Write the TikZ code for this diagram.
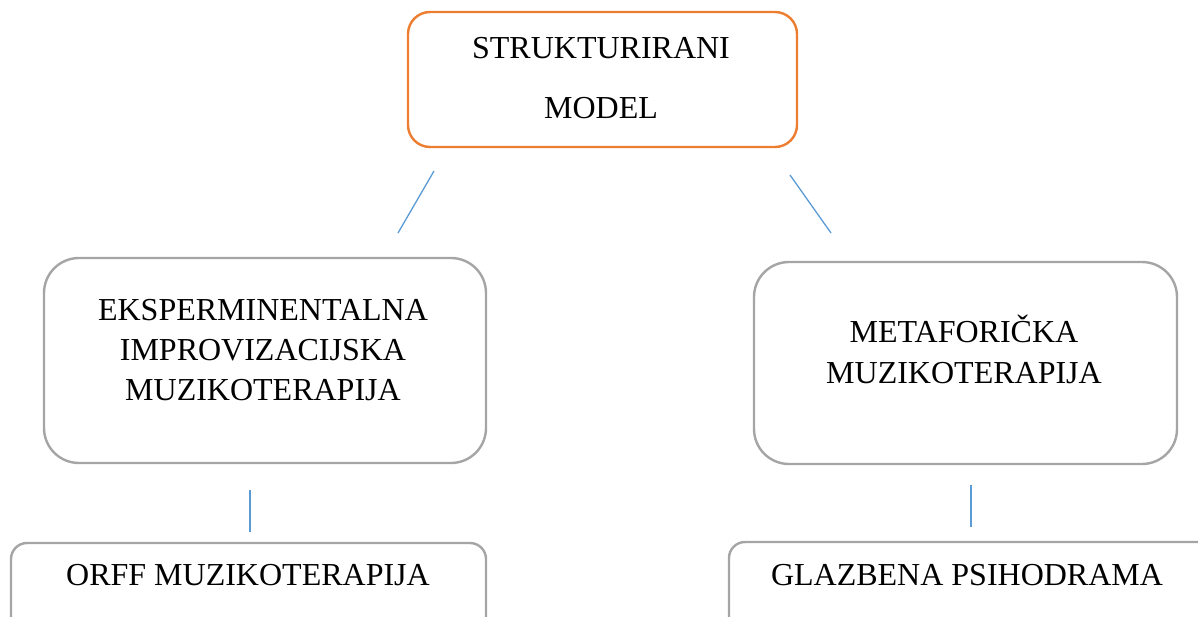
\documentclass[tikz,border=0pt]{standalone}
\usepackage{fontspec}
\setmainfont{Liberation Serif}
\definecolor{borange}{HTML}{ED7D31}
\definecolor{bgray}{HTML}{A5A5A5}
\definecolor{bblue}{HTML}{5B9BD5}
\begin{document}
\begin{tikzpicture}[x=1pt,y=-1pt,
  box/.style={draw=bgray, line width=2.4pt, rectangle, inner sep=0pt, fill=white},
  topbox/.style={draw=borange, line width=2.4pt, rectangle, inner sep=0pt, rounded corners=22pt},
  lbl/.style={anchor=base, inner sep=0pt, font=\fontsize{32}{38}\selectfont},
  conn/.style={draw=bblue, line width=1.3pt}]
\useasboundingbox (0,0) rectangle (1198,616);
\clip (0,0) rectangle (1198,616);
% boxes
\node[topbox, minimum width=389pt, minimum height=135pt] (top) at (602.5,79.5) {};
\node[box, rounded corners=35pt, minimum width=442pt, minimum height=205pt] (left) at (265,360.5) {};
\node[box, rounded corners=35pt, minimum width=423pt, minimum height=202pt] (right) at (965.5,363) {};
\node[box, rounded corners=16pt, minimum width=475pt, minimum height=100pt] (orff) at (248.5,593) {};
\node[box, rounded corners=16pt, minimum width=501pt, minimum height=100pt] (glaz) at (979.5,592) {};
% texts
\node[lbl] (t1) at (601,58) {STRUKTURIRANI};
\node[lbl] (t2) at (601,118) {MODEL};
\node[lbl] (l1) at (263,320) {EKSPERMINENTALNA};
\node[lbl] (l2) at (263,360) {IMPROVIZACIJSKA};
\node[lbl] (l3) at (263,400) {MUZIKOTERAPIJA};
\node[lbl] (r1) at (964,342) {METAFORIČKA};
\node[lbl] (r2) at (964,383) {MUZIKOTERAPIJA};
\node[lbl] (b1) at (248,585) {ORFF MUZIKOTERAPIJA};
\node[lbl] (b2) at (967,585) {GLAZBENA PSIHODRAMA};
% connector end points
\coordinate (c1a) at (434,171);
\coordinate (c1b) at (398,233);
\coordinate (c2a) at (790,175);
\coordinate (c2b) at (831,233);
\coordinate (c3a) at (250,490);
\coordinate (c3b) at (250,532);
\coordinate (c4a) at (971,485);
\coordinate (c4b) at (971,527);
\draw[conn] (c1a) -- (c1b);
\draw[conn] (c2a) -- (c2b);
\draw[conn] (c3a) -- (c3b);
\draw[conn] (c4a) -- (c4b);
\end{tikzpicture}
\end{document}
